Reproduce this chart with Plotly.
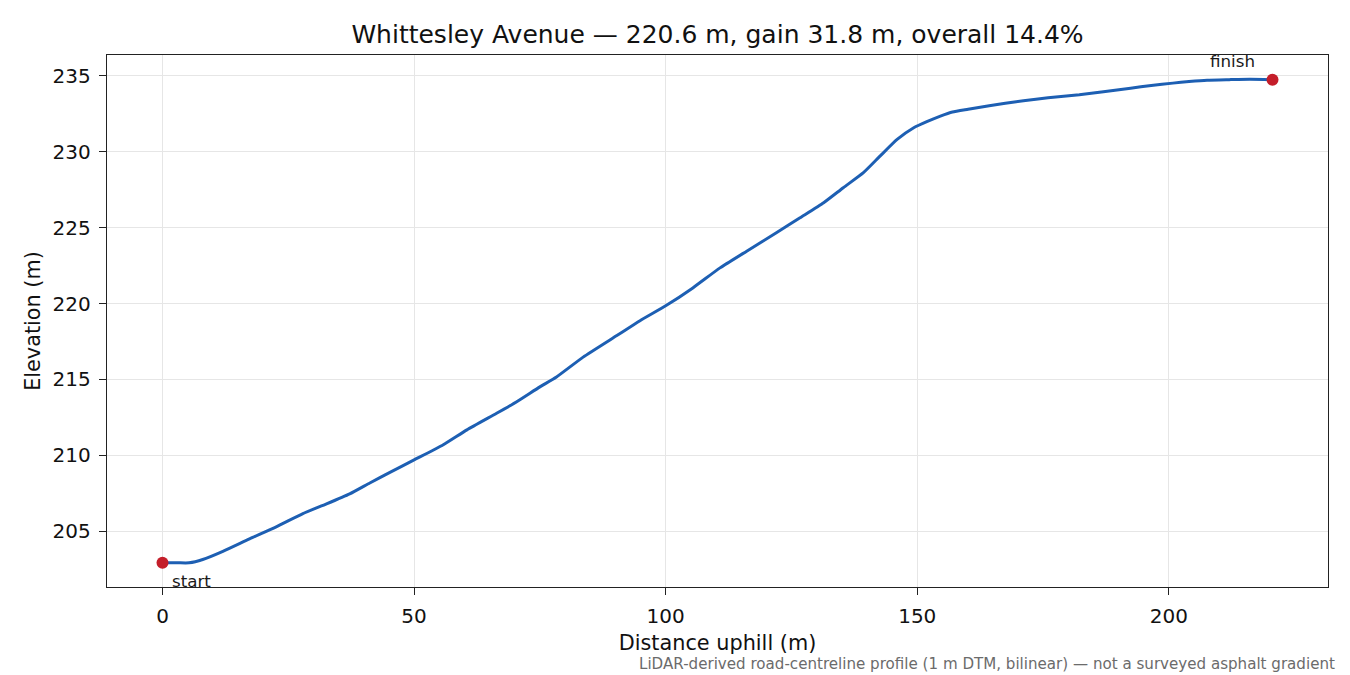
import plotly.graph_objects as go

distance_m = [0, 3, 5.3, 8.0, 12.0, 17.3, 22.6, 27.9, 32.6, 37.2, 41.2, 45.2, 50, 55.8, 60.5,
              66.4, 70.4, 75.0, 78.3, 83.6, 90.3, 94.9, 100, 105.4, 110.8, 116.1, 122.0,
              126.7, 131.4, 135.3, 139.3, 142.6, 146.0, 149.3, 151.9, 154.6, 157, 160.1,
              164.3, 167.5, 171.1, 176, 182.2, 187, 192.4, 196.5, 200.8, 204, 207.6, 212,
              216.1, 220.6]
elevation_m = [202.92, 202.92, 202.92, 203.14, 203.68, 204.5, 205.29, 206.16, 206.8, 207.46,
               208.18, 208.88, 209.7, 210.7, 211.68, 212.77, 213.53, 214.51, 215.16, 216.47,
               217.89, 218.87, 219.85, 221.03, 222.35, 223.45, 224.66, 225.65, 226.64, 227.63,
               228.62, 229.71, 230.81, 231.58, 231.98, 232.35, 232.62, 232.8, 233.03, 233.2,
               233.36, 233.55, 233.75, 233.95, 234.19, 234.37, 234.52, 234.62, 234.71, 234.75,
               234.78, 234.75]
endpoint_labels = ["start", "finish"]
x_ticks = [0, 50, 100, 150, 200]
y_ticks = [205, 210, 215, 220, 225, 230, 235]

title_text = "Whittesley Avenue — 220.6 m, gain 31.8 m, overall 14.4%"
note_text = "LiDAR-derived road-centreline profile (1 m DTM, bilinear) — not a surveyed asphalt gradient"

FONT = "DejaVu Sans"
W, H = 1342, 667  # page body adds an 8 px margin
fig = go.Figure()
fig.add_trace(go.Scatter(x=distance_m, y=elevation_m, mode="lines",
                         line=dict(color="#1d5fb3", width=3, shape="spline", smoothing=0.5),
                         hoverinfo="skip", showlegend=False))
fig.add_trace(go.Scatter(x=[distance_m[0], distance_m[-1]], y=[elevation_m[0], elevation_m[-1]],
                         mode="markers", marker=dict(color="#c41e2a", size=12),
                         showlegend=False))

fig.add_annotation(x=distance_m[0], y=elevation_m[0], text=endpoint_labels[0], showarrow=False,
                   xanchor="left", yanchor="middle", xshift=7, yshift=-18,
                   font=dict(family=FONT, size=16.7, color="#1a1a1a"))
fig.add_annotation(x=distance_m[-1], y=elevation_m[-1], text=endpoint_labels[1], showarrow=False,
                   xanchor="center", yanchor="middle", xshift=-39.6, yshift=19,
                   font=dict(family=FONT, size=16.7, color="#1a1a1a"))
fig.add_annotation(xref="paper", yref="paper", x=(1337 - 107) / 1221, y=-(664 - 587) / 532,
                   text=note_text, showarrow=False, xanchor="right", yanchor="middle",
                   font=dict(family=FONT, size=15.1, color="#6b6b6b"))

xmin, xmax = min(distance_m), max(distance_m)
ymin, ymax = min(elevation_m), max(elevation_m)
xp = 0.05 * (xmax - xmin)
yp = 0.05 * (ymax - ymin)

axis_common = dict(showline=True, linecolor="#222", linewidth=1.4, mirror=True,
                   ticks="outside", ticklen=7, tickwidth=1.4, tickcolor="#222",
                   showgrid=True, gridcolor="#e6e6e6", gridwidth=1.2, zeroline=False,
                   tickfont=dict(family=FONT, size=20, color="#111"))

fig.update_layout(
    width=W, height=H,
    margin=dict(l=99, r=22, t=47, b=88),
    paper_bgcolor="white", plot_bgcolor="white",
    title=dict(text=title_text, x=(717.5 - 8) / W, xanchor="center",
               y=1 - 26 / H, yanchor="middle", yref="container",
               font=dict(family=FONT, size=25, color="#111")),
    xaxis=dict(range=[xmin - xp, xmax + xp], tickvals=x_ticks, ticklabelstandoff=4,
               title=dict(text="Distance uphill (m)", standoff=8,
                          font=dict(family=FONT, size=20.8, color="#111")),
               **axis_common),
    yaxis=dict(range=[ymin - yp, ymax + yp], tickvals=y_ticks, ticklabelstandoff=4,
               title=dict(text="Elevation (m)", standoff=6,
                          font=dict(family=FONT, size=20.8, color="#111")),
               **axis_common),
)

fig.write_html("out.html")
